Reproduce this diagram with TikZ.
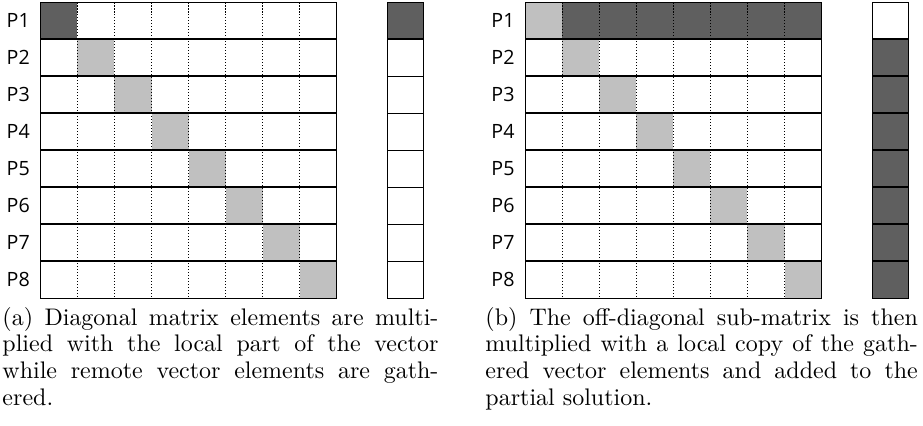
\documentclass[tikz,border=0pt]{standalone}
\usepackage{fontspec}
\newfontfamily\labelfont{Open Sans}
\definecolor{darkcell}{HTML}{5F5F5F}
\definecolor{lightcell}{HTML}{C0C0C0}
\tikzset{
  rowline/.style={line width=0.86pt},
  colline/.style={line width=0.42pt, dash pattern=on 0.5pt off 0.75pt},
  frame/.style={line width=0.42pt},
  vecsep/.style={line width=0.57pt},
  plabel/.style={font=\labelfont\fontsize{8.2}{10}\selectfont, anchor=east, inner sep=0pt},
  caption/.style={anchor=base west, inner sep=0pt, font=\fontsize{10}{11.13}\selectfont},
}
\begin{document}
\begin{tikzpicture}[x=0.417pt,y=-0.417pt]
\useasboundingbox (0,0) rectangle (923,425);
\def\cw{37.08}
\def\ch{37}

% ---- panel (a): diagonal blocks and local vector part ----
\begin{scope}[shift={(40.3,2.3)}]
  \foreach \i in {1,...,7}
    \fill[lightcell] (\i*\cw,\i*\ch) rectangle ++(\cw,\ch);
  \fill[darkcell] (0,0) rectangle (\cw,\ch);
  \foreach \i in {1,...,7}
    \draw[colline] (\i*\cw,0) -- (\i*\cw,8*\ch);
  \foreach \j in {1,...,7}
    \draw[rowline] (0,\j*\ch) -- (8*\cw,\j*\ch);
  \draw[frame] (0,0) rectangle (8*\cw,8*\ch);
  \foreach \j in {1,...,8}
    \node[plabel] (pa\j) at (-10,\j*\ch-0.5*\ch) {P\j};
  % vector
  \fill[darkcell] (347,0) rectangle (383,\ch);
  \foreach \j in {2,...,7}
    \draw[vecsep] (347,\j*\ch) -- (383,\j*\ch);
  \draw[rowline] (347,\ch) -- (383,\ch);
  \draw[frame] (347,0) rectangle (383,8*\ch);
\end{scope}

% ---- panel (b): off-diagonal sub-matrix and gathered vector ----
\begin{scope}[shift={(525,2.3)}]
  \foreach \i in {1,...,7}
    \fill[lightcell] (\i*\cw,\i*\ch) rectangle ++(\cw,\ch);
  \fill[lightcell] (0,0) rectangle (\cw,\ch);
  \fill[darkcell] (\cw,0) rectangle (8*\cw,\ch);
  \foreach \i in {1,...,7}
    \draw[colline] (\i*\cw,0) -- (\i*\cw,8*\ch);
  \foreach \j in {1,...,7}
    \draw[rowline] (0,\j*\ch) -- (8*\cw,\j*\ch);
  \draw[frame] (0,0) rectangle (8*\cw,8*\ch);
  \foreach \j in {1,...,8}
    \node[plabel] (pb\j) at (-10,\j*\ch-0.5*\ch) {P\j};
  % vector
  \fill[darkcell] (347.3,\ch) rectangle (383.3,8*\ch);
  \foreach \j in {1,...,7}
    \draw[rowline] (347.3,\j*\ch) -- (383.3,\j*\ch);
  \draw[frame] (347.3,0) rectangle (383.3,8*\ch);
\end{scope}

% ---- captions ----
\node[caption] (capa) at (2,325) {\parbox[t]{181.8pt}{%
(a) Diagonal matrix elements are multi-\linebreak
plied with the local part of the vector\linebreak
while remote vector elements are gath-\linebreak
ered.}};
\node[caption] (capb) at (485,325) {\parbox[t]{180.3pt}{%
(b) The off-diagonal sub-matrix is then\linebreak
multiplied with a local copy of the gath-\linebreak
ered vector elements and added to the\linebreak
partial solution.}};
\end{tikzpicture}
\end{document}
